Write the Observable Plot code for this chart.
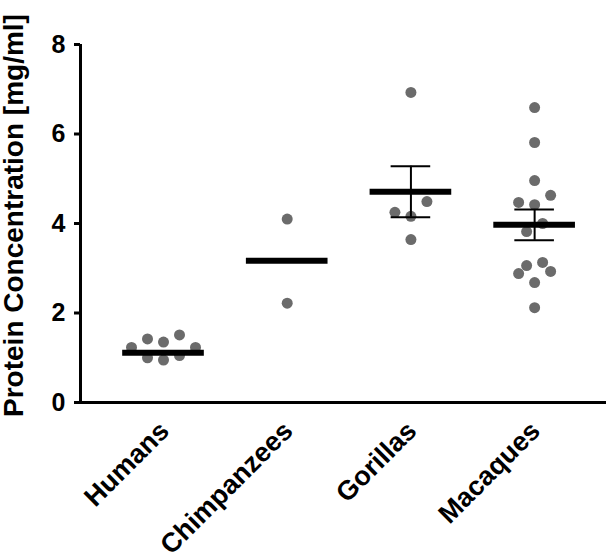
<!DOCTYPE html>
<html>
<head>
<meta charset="utf-8">
<script src="https://cdn.jsdelivr.net/npm/d3@7"></script>
<script src="https://cdn.jsdelivr.net/npm/@observablehq/plot@0.6"></script>
<style>
  html, body { margin: 0; padding: 0; background: white; }
</style>
</head>
<body>
<div id="chart"></div>
<script>
// ---- data ----
const categories = ["Humans", "Chimpanzees", "Gorillas", "Macaques"];
const humans = [0.95, 1.00, 1.05, 1.23, 1.23, 1.35, 1.42, 1.51];
const chimpanzees = [2.22, 4.10];
const gorillas = [3.64, 4.16, 4.25, 4.49, 6.93];
const macaques = [2.12, 2.68, 2.88, 2.93, 3.06, 3.13, 3.82, 4.00, 4.42, 4.47, 4.63, 4.96, 5.81, 6.59];
const means = [1.11, 3.17, 4.71, 3.97];
const sems = [null, null, 0.57, 0.345];
const yTicks = [0, 2, 4, 6, 8];
const yLabel = "Protein Concentration [mg/ml]";

// ---- layout ----
const W = 606, H = 553, mL = 80, mR = 0, mT = 44, mB = 151;
const xDomain = [-0.671, 3.581];
const yDomain = [0, 8];
const pxPerX = (W - mL - mR) / (xDomain[1] - xDomain[0]);
const pxPerY = (H - mT - mB) / (yDomain[1] - yDomain[0]);
const slotPx = 16, binPx = 16;

// GraphPad-like scatter: group close values into rows, spread each row symmetrically
function swarm(values, i) {
  const sorted = values.slice().sort((a, b) => a - b);
  const out = [];
  let k = 0;
  while (k < sorted.length) {
    const start = sorted[k];
    const bin = [];
    while (k < sorted.length && (sorted[k] - start) * pxPerY < binPx) bin.push(sorted[k++]);
    const n = bin.length;
    bin.forEach((v, j) => {
      let s;
      if (n % 2) s = j === 0 ? 0 : Math.ceil(j / 2) * (j % 2 ? -1 : 1);
      else s = (Math.floor(j / 2) + 0.5) * (j % 2 ? 1 : -1);
      out.push({category: categories[i], i, value: v, x: i + s * slotPx / pxPerX});
    });
  }
  return out;
}
const series = [humans, chimpanzees, gorillas, macaques];
const points = series.flatMap((vals, i) => swarm(vals, i));
const meanData = categories.map((c, i) => ({category: c, i, mean: means[i], sem: sems[i]}));
const errData = meanData.filter(d => d.sem != null);

const meanHalf = 0.33, capHalf = 0.16;

const chart = Plot.plot({
  width: W, height: H,
  marginLeft: mL, marginRight: mR, marginTop: mT, marginBottom: mB,
  style: {fontFamily: "'Liberation Sans', Arial, Helvetica, sans-serif", background: "white", color: "black"},
  x: {domain: xDomain, axis: null},
  y: {domain: yDomain, axis: null},
  marks: [
    Plot.ruleY([0], {stroke: "black", strokeWidth: 3}),
    Plot.ruleX([xDomain[0]], {y1: yDomain[0], y2: yDomain[1], stroke: "black", strokeWidth: 3}),
    Plot.axisY(yTicks, {tickSize: 6, tickPadding: 9, fontSize: 25, fontWeight: "bold", strokeWidth: 3, label: null, stroke: "black", fill: "black"}),
    Plot.axisX(d3.range(categories.length), {tickFormat: i => categories[i], tickSize: 0, tickPadding: 24, dx: 1, tickRotate: -45, fontSize: 27, fontWeight: "bold", label: null, fill: "black"}),
    Plot.text([yLabel], {text: d => d, frameAnchor: "left", textAnchor: "middle", rotate: -90, dx: -66, dy: -8, fontSize: 28, fontWeight: "bold", fill: "black"}),
    Plot.dot(points, {x: "x", y: "value", r: 5.5, fill: "#6b6b6b", stroke: "none"}),
    Plot.ruleX(errData, {x: "i", y1: d => d.mean - d.sem, y2: d => d.mean + d.sem, stroke: "black", strokeWidth: 2}),
    Plot.ruleY(errData, {y: d => d.mean + d.sem, x1: d => d.i - capHalf, x2: d => d.i + capHalf, stroke: "black", strokeWidth: 2}),
    Plot.ruleY(errData, {y: d => d.mean - d.sem, x1: d => d.i - capHalf, x2: d => d.i + capHalf, stroke: "black", strokeWidth: 2}),
    Plot.ruleY(meanData, {y: "mean", x1: d => d.i - meanHalf, x2: d => d.i + meanHalf, stroke: "black", strokeWidth: 6})
  ]
});
document.getElementById("chart").appendChild(chart);
</script>
</body>
</html>
